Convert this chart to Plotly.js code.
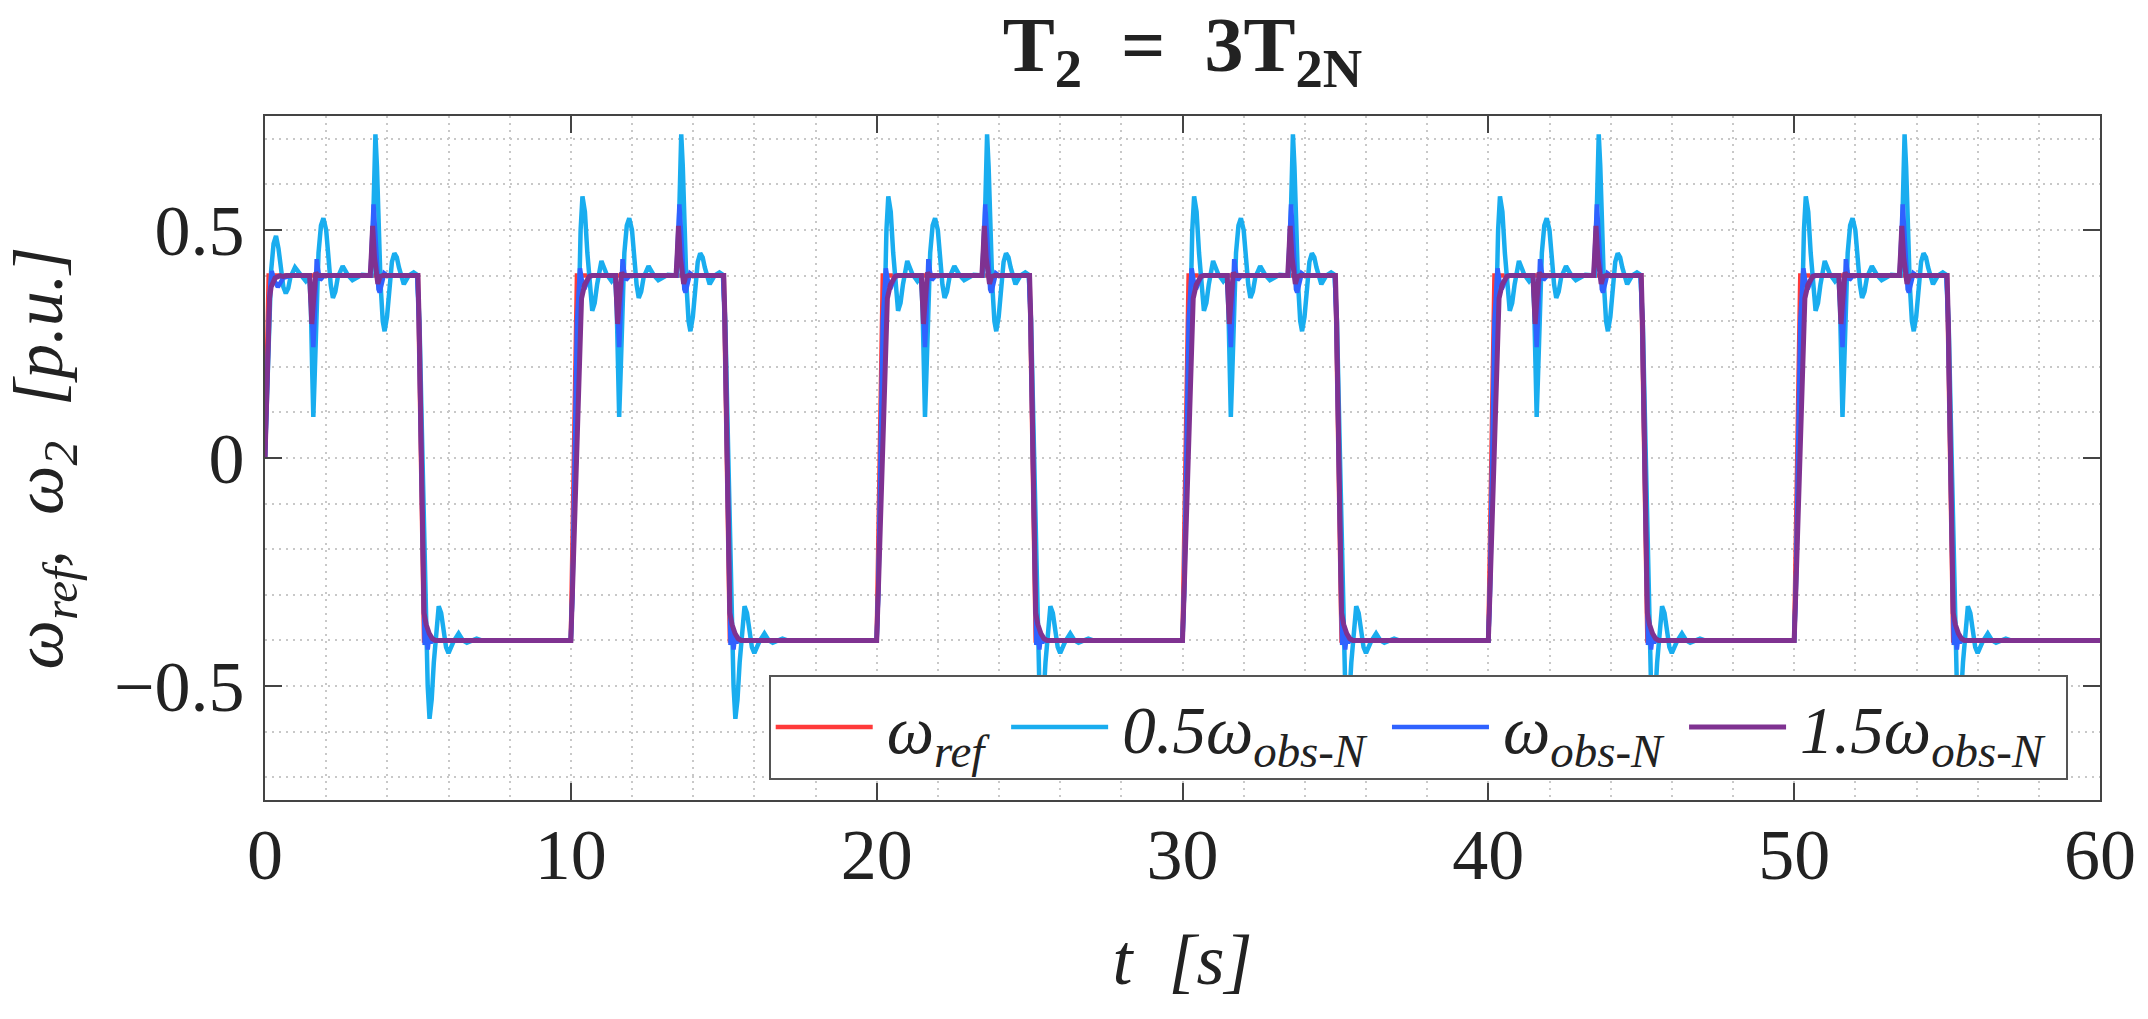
<!DOCTYPE html>
<html>
<head>
<meta charset="utf-8">
<script src="https://cdn.plot.ly/plotly-3.0.1.min.js"></script>
<style>
  html, body { margin: 0; padding: 0; background: #fff; }
  #chart { width: 2148px; height: 1019px; }
</style>
</head>
<body>
<div id="chart"></div>
<script>
// one speed-reversal cycle (10 s), repeated for every period
var periodStarts = [0, 10, 20, 30, 40, 50];
var tEnd = 60;
var endValue = -0.4;

// omega_ref
var refFirstT = [0, 0.12];
var refFirstV = [0, 0.4];
var refCycT = [0, 0.2, 5.0, 5.2];
var refCycV = [-0.4, 0.4, 0.4, -0.4];

// 0.5 omega_obs-N
var lbFirstT = [0, 0.1, 0.2, 0.28, 0.36, 0.44, 0.52, 0.6, 0.68, 0.76, 0.83, 0.98, 1.15, 1.31];
var lbFirstV = [0, 0.22, 0.41, 0.47, 0.487, 0.46, 0.415, 0.375, 0.361, 0.372, 0.396, 0.418, 0.403, 0.392];
var lbCycT = [0, 0.05, 0.15, 0.25, 0.32, 0.38, 0.46, 0.54, 0.62, 0.7, 0.78, 0.86, 1.0, 1.17, 1.33,
  1.45, 1.5, 1.54, 1.58, 1.62, 1.68, 1.75, 1.83, 1.91, 2.0, 2.08, 2.15, 2.22, 2.3, 2.38, 2.54, 2.7, 2.86, 3.17,
  3.48, 3.53, 3.57, 3.61, 3.66, 3.72, 3.78, 3.85, 3.91, 3.99, 4.07, 4.15, 4.23, 4.31, 4.38, 4.46, 4.54, 4.7, 4.86, 4.97,
  5.05, 5.15, 5.25, 5.32, 5.38, 5.45, 5.52, 5.6, 5.68, 5.76, 5.84, 5.92, 6.0, 6.16, 6.33, 6.47, 6.6, 6.75, 6.92, 7.08];
var lbCycV = [-0.4, -0.3, 0.0, 0.3, 0.5, 0.574, 0.54, 0.45, 0.37, 0.323, 0.34, 0.381, 0.432, 0.403, 0.388,
  0.4, 0.33, 0.2, 0.09, 0.17, 0.33, 0.45, 0.51, 0.526, 0.5, 0.432, 0.38, 0.351, 0.365, 0.396, 0.421, 0.402, 0.39, 0.402,
  0.4, 0.5, 0.65, 0.71, 0.64, 0.5, 0.38, 0.3, 0.278, 0.31, 0.38, 0.43, 0.449, 0.44, 0.418, 0.395, 0.381, 0.4, 0.407, 0.402,
  0.3, 0.0, -0.35, -0.5, -0.572, -0.53, -0.448, -0.37, -0.325, -0.34, -0.38, -0.415, -0.428, -0.403, -0.385, -0.4, -0.405, -0.4, -0.396, -0.4];

// omega_obs-N
var obFirstT = [0, 0.05, 0.15, 0.22, 0.3, 0.42, 0.6, 0.85];
var obFirstV = [0, 0.12, 0.36, 0.41, 0.39, 0.375, 0.395, 0.4];
var obCycT = [0, 0.05, 0.2, 0.26, 0.3, 0.36, 0.44, 0.53, 0.62, 0.85,
  1.46, 1.51, 1.55, 1.58, 1.62, 1.66, 1.69, 1.74, 1.8, 1.9, 2.0,
  3.45, 3.5, 3.55, 3.6, 3.66, 3.71, 3.75, 3.82, 3.9, 4.0,
  4.98, 5.03, 5.18, 5.22, 5.27, 5.32, 5.37, 5.42, 5.5, 5.6];
var obCycV = [-0.4, -0.3, 0.3, 0.405, 0.416, 0.39, 0.37, 0.385, 0.4, 0.4,
  0.4, 0.34, 0.27, 0.243, 0.3, 0.4, 0.436, 0.41, 0.39, 0.398, 0.4,
  0.4, 0.47, 0.556, 0.5, 0.4, 0.37, 0.363, 0.385, 0.405, 0.4,
  0.4, 0.3, -0.36, -0.41, -0.37, -0.42, -0.39, -0.405, -0.398, -0.4];

// 1.5 omega_obs-N
var hiFirstT = [0, 0.03, 0.15, 0.2, 0.33, 0.5];
var hiFirstV = [0, 0.08, 0.35, 0.375, 0.395, 0.4];
var hiCycT = [0, 0.05, 0.3, 0.35, 0.45, 0.6, 0.7,
  1.46, 1.5, 1.53, 1.57, 1.62, 1.66, 1.72, 1.8,
  3.44, 3.48, 3.52, 3.58, 3.64, 3.69, 3.76, 3.85,
  5.0, 5.04, 5.2, 5.27, 5.37, 5.47, 5.57];
var hiCycV = [-0.4, -0.3, 0.32, 0.35, 0.38, 0.398, 0.4,
  0.4, 0.34, 0.294, 0.33, 0.39, 0.407, 0.4, 0.4,
  0.4, 0.45, 0.509, 0.44, 0.39, 0.382, 0.398, 0.4,
  0.4, 0.3, -0.34, -0.365, -0.385, -0.396, -0.4];

var names = [
  '<i>ω<sub>ref</sub></i>&nbsp;',
  '<i>0.5ω<sub>obs-N</sub></i>&nbsp;',
  '<i>ω<sub>obs-N</sub></i>&nbsp;',
  '<i>1.5ω<sub>obs-N</sub></i>&nbsp;'
];
var colors = ['#FF3A3A', '#19ADEF', '#2F62FF', '#7F3291'];
var widths = [4.5, 4.5, 4.5, 5];

function buildSeries(firstT, firstV, cycT, cycV) {
  var t = [], v = [];
  var lastFirst = firstT[firstT.length - 1];
  for (var i = 0; i < firstT.length; i++) { t.push(firstT[i]); v.push(firstV[i]); }
  for (var j = 0; j < cycT.length; j++) {
    if (cycT[j] > lastFirst) { t.push(cycT[j]); v.push(cycV[j]); }
  }
  for (var k = 1; k < periodStarts.length; k++) {
    for (var m = 0; m < cycT.length; m++) {
      t.push(periodStarts[k] + cycT[m]); v.push(cycV[m]);
    }
  }
  t.push(tEnd); v.push(endValue);
  return {t: t, v: v};
}

var series = [
  buildSeries(refFirstT, refFirstV, refCycT, refCycV),
  buildSeries(lbFirstT, lbFirstV, lbCycT, lbCycV),
  buildSeries(obFirstT, obFirstV, obCycT, obCycV),
  buildSeries(hiFirstT, hiFirstV, hiCycT, hiCycV)
];

var data = series.map(function(s, i) {
  return {
    x: s.t,
    y: s.v,
    type: 'scatter',
    mode: 'lines',
    name: names[i],
    line: {color: colors[i], width: widths[i]}
  };
});

var serif = 'Liberation Serif, Times New Roman, serif';
var gridCol = '#c8c8c8';
var gridDash = '2px,5px';

var layout = {
  width: 2148,
  height: 1019,
  margin: {l: 265, r: 48, t: 116, b: 219},
  paper_bgcolor: '#fff',
  plot_bgcolor: '#fff',
  font: {family: serif, color: '#222'},
  title: {
    text: '<b>T<sub>2</sub>&nbsp; = &nbsp;3T<sub>2N</sub></b>',
    font: {family: serif, size: 78, color: '#222'},
    x: 0.5, xref: 'paper', xanchor: 'center',
    y: 0.957, yref: 'container', yanchor: 'middle'
  },
  xaxis: {
    range: [0, 60],
    dtick: 10,
    tick0: 0,
    ticks: 'inside',
    ticklen: 17,
    tickwidth: 2,
    tickcolor: '#444',
    showline: true,
    linecolor: '#444',
    linewidth: 2,
    mirror: 'ticks',
    zeroline: false,
    showgrid: true,
    gridcolor: gridCol,
    gridwidth: 2,
    griddash: gridDash,
    minor: {dtick: 2, showgrid: true, gridcolor: gridCol, gridwidth: 2, griddash: gridDash},
    tickfont: {family: serif, size: 72, color: '#222'},
    ticklabelstandoff: -9,
    title: {
      text: '<i>t&nbsp;&nbsp;[s]</i>',
      font: {family: serif, size: 72, color: '#222'},
      standoff: 39
    }
  },
  yaxis: {
    range: [-0.75, 0.75],
    dtick: 0.5,
    tick0: 0,
    ticks: 'inside',
    ticklen: 17,
    tickwidth: 2,
    tickcolor: '#444',
    showline: true,
    linecolor: '#444',
    linewidth: 2,
    mirror: 'ticks',
    zeroline: false,
    showgrid: true,
    gridcolor: gridCol,
    gridwidth: 2,
    griddash: gridDash,
    minor: {dtick: 0.1, showgrid: true, gridcolor: gridCol, gridwidth: 2, griddash: gridDash},
    tickfont: {family: serif, size: 72, color: '#222'},
    ticklabelstandoff: 4,
    title: {
      text: '<i>ω<sub>ref</sub>,&nbsp; ω<sub>2</sub>&nbsp; [p.u.]</i>',
      font: {family: serif, size: 70, color: '#222'},
      standoff: 65
    }
  },
  showlegend: true,
  legend: {
    orientation: 'h',
    x: 0.2745, xanchor: 'left',
    y: 0.183, yanchor: 'top',
    bgcolor: '#fff',
    bordercolor: '#555',
    borderwidth: 2,
    itemwidth: 106,
    font: {family: serif, size: 67, color: '#222'}
  }
};

Plotly.newPlot('chart', data, layout, {staticPlot: true}).then(function(gd) {
  // longer legend line samples, as in the original figure
  gd.querySelectorAll('.legend .legendlines path').forEach(function(p) {
    p.setAttribute('d', 'M5,0h97');
  });
});
</script>
</body>
</html>
